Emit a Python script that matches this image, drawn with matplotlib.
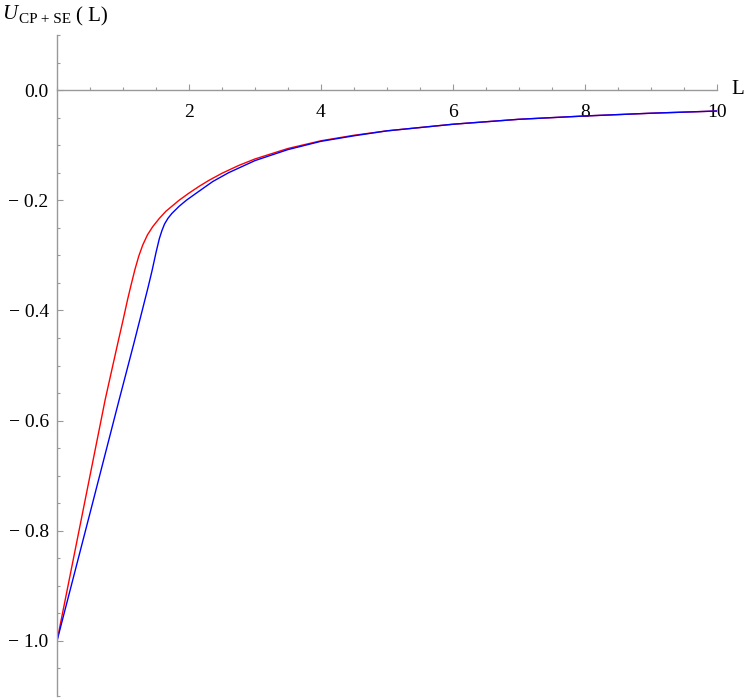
import matplotlib
matplotlib.use("Agg")
import matplotlib.pyplot as plt
from matplotlib.ticker import FixedLocator, FixedFormatter, MultipleLocator

# values
red_x = [0.0, 0.40, 0.73, 0.92, 1.00, 1.07, 1.12, 1.18, 1.24, 1.30, 1.37, 1.45, 1.55,
         1.65, 1.75, 1.85, 2.0, 2.15, 2.3, 2.5, 2.75, 3.0, 3.5, 4.0, 4.5, 5.0, 6.0, 7.0,
         8.0, 9.0, 10.0]
red_y = [-1.0, -0.760, -0.562, -0.460, -0.418, -0.380, -0.355, -0.326, -0.301, -0.281,
         -0.263, -0.248, -0.233, -0.220, -0.210, -0.200, -0.187, -0.175, -0.164, -0.151,
         -0.137, -0.125, -0.106, -0.092, -0.082, -0.074, -0.062, -0.053, -0.047, -0.042,
         -0.038]

blue_x = [0.0, 0.5, 0.94, 1.16, 1.30, 1.38, 1.44, 1.50, 1.55, 1.59, 1.63, 1.68, 1.74,
          1.85, 1.96, 2.1, 2.36, 2.6, 3.0, 3.5, 4.0, 4.5, 5.0, 6.0, 7.0, 8.0, 9.0, 10.0]
blue_y = [-1.0, -0.768, -0.563, -0.462, -0.396, -0.358, -0.328, -0.295, -0.270, -0.255,
          -0.243, -0.233, -0.224, -0.211, -0.200, -0.188, -0.166, -0.150, -0.128, -0.108,
          -0.093, -0.083, -0.074, -0.062, -0.053, -0.047, -0.042, -0.038]

x_major = [2, 4, 6, 8, 10]
x_labels = ["2", "4", "6", "8", "10"]
y_major = [0.0, -0.2, -0.4, -0.6, -0.8, -1.0]
y_labels = ["0.0", "\u2212 0.2", "\u2212 0.4", "\u2212 0.6", "\u2212 0.8", "\u2212 1.0"]

plt.rcParams["font.family"] = ["Liberation Serif", "DejaVu Serif"]
axis_gray = "#999999"

fig = plt.figure(figsize=(7.5, 6.98), dpi=100)
ax = fig.add_axes([57 / 750, 2 / 698, 660 / 750, 661 / 698])

ax.plot(red_x, red_y, color="#ff0000", linewidth=1.0, solid_joinstyle="round")
ax.plot(blue_x, blue_y, color="#0000ff", linewidth=1.0, solid_joinstyle="round")

ax.set_xlim(0, 10)
ax.set_ylim(-1.1, 0.1)

for side in ("top", "right"):
    ax.spines[side].set_visible(False)
ax.spines["left"].set_position(("data", 0))
ax.spines["bottom"].set_position(("data", 0))
for side in ("left", "bottom"):
    ax.spines[side].set_color(axis_gray)
    ax.spines[side].set_linewidth(1.0)

ax.xaxis.set_major_locator(FixedLocator(x_major))
ax.xaxis.set_major_formatter(FixedFormatter(x_labels))
ax.xaxis.set_minor_locator(MultipleLocator(0.5))
ax.yaxis.set_major_locator(FixedLocator(y_major))
ax.yaxis.set_major_formatter(FixedFormatter(y_labels))
ax.yaxis.set_minor_locator(MultipleLocator(0.05))

ax.tick_params(which="both", direction="in", color=axis_gray, width=0.8,
               labelsize=14, labelcolor="black")
ax.tick_params(which="major", length=4)
ax.tick_params(which="minor", length=2.5)
ax.tick_params(axis="x", which="major", pad=10)
ax.tick_params(axis="y", which="major", pad=6)

# axis labels, placed like Mathematica's AxesLabel
fig.text(731 / 750, 1 - 90 / 698, "L", fontsize=15, ha="left", va="center")
fig.text(2 / 750, 1 - 19 / 698, "U", fontsize=15, style="italic", ha="left", va="baseline")
fig.text(19 / 750, 1 - 23 / 698, "CP + SE", fontsize=11, ha="left", va="baseline")
fig.text(76 / 750, 1 - 21 / 698, "( L)", fontsize=15, ha="left", va="baseline")

fig.savefig("out.png", dpi=100)
